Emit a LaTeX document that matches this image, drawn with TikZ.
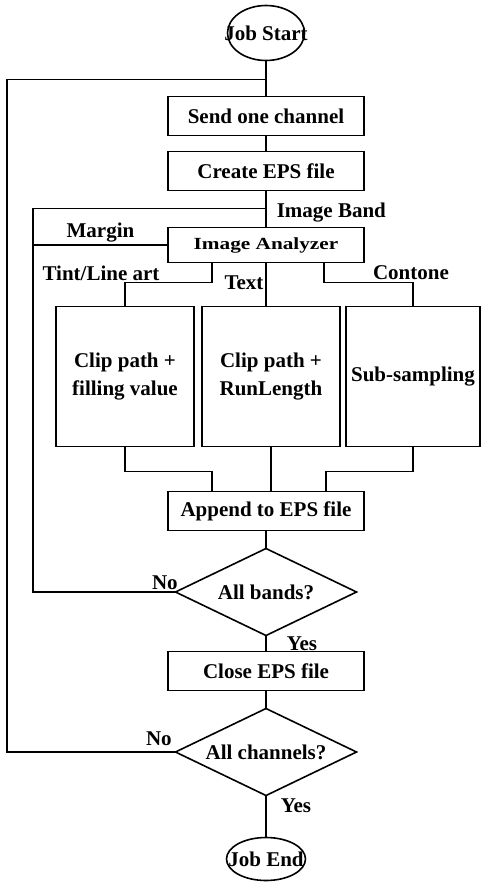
\documentclass[tikz,border=0pt]{standalone}
\usepackage{graphicx}
\usepackage{fontspec}
\setmainfont{Liberation Serif}
\usetikzlibrary{positioning,shapes.geometric}

\begin{document}
\begin{tikzpicture}[
    x=1pt, y=-1pt,
    line width=1.6pt,
    font=\fontsize{21}{28}\selectfont\bfseries,
    box/.style={rectangle, draw, minimum width=196pt, minimum height=39pt, inner sep=0pt, outer sep=0pt, align=center},
    tall/.style={rectangle, draw, minimum width=138pt, minimum height=140pt, inner sep=0pt, outer sep=0pt, align=center},
    decision/.style={diamond, draw, aspect=2, minimum width=181pt, minimum height=87pt, inner sep=2pt, outer sep=0pt},
    terminal/.style={ellipse, draw, inner sep=0pt, outer sep=0pt},
    note/.style={inner sep=0pt}
]
\path[use as bounding box, fill=white] (0,0) rectangle (481,883);

% Main flow
\node[terminal, minimum width=77pt, minimum height=55pt] (start) at (266,33) {\makebox[40pt]{Job Start}};
\node[box, below=36pt of start] (send) {Send one channel};
\node[box, below=16pt of send] (create) {Create EPS file};
\node[box, minimum height=35pt, below=37pt of create] (analyzer) {\fontsize{17}{20}\selectfont\scalebox{1.25}[1]{Image Analyzer}};

% Band types
\node[tall, below=44pt of analyzer, xshift=5pt] (run) {Clip path +\\RunLength};
\node[tall, left=8pt of run] (fill) {Clip path +\\filling value};
\node[tall, minimum width=134pt, right=6pt of run] (sub) {Sub-sampling};

% Closing part
\node[box, below=45pt of run, xshift=-5pt] (append) {Append to EPS file};
\node[decision, below=18pt of append] (bands) {All bands?};
\node[box, below=16pt of bands] (close) {Close EPS file};
\node[decision, below=18pt of close] (chans) {All channels?};
\node[terminal, minimum width=79pt, minimum height=43pt, below=42pt of chans] (end) {\makebox[40pt]{Job End}};

% Loop corners
\coordinate[below=19pt of start] (jtop);
\coordinate[below=18pt of create] (jband);
\coordinate[left=259pt of jtop] (outerL);
\coordinate[left=233pt of jband] (innerL);

\draw (start) -- (send);
\draw (send) -- (create);
\draw (create) -- (analyzer);
\draw (analyzer.south) -- (analyzer.south |- run.north);
\draw ([xshift=-54pt]analyzer.south) |- ([yshift=24pt]fill.north) -- (fill.north);
\draw ([xshift=58pt]analyzer.south) |- ([yshift=24pt]sub.north) -- (sub.north);
\draw (fill.south) |- ([xshift=-54pt, yshift=20pt]append.north) -- ([xshift=-54pt]append.north);
\draw (run.south) -- (run.south |- append.north);
\draw (sub.south) |- ([xshift=60pt, yshift=20pt]append.north) -- ([xshift=60pt]append.north);
\draw (append) -- (bands);
\draw (bands) -- node[note, right=20pt] (yesbands) {Yes} (close);
\draw (close) -- (chans);
\draw (chans) -- node[note, pos=0.25, right=14pt] (yeschans) {Yes} (end);

% Loops back
\draw (analyzer.west) -- node[note, above=2pt] (margintxt) {Margin} (analyzer.west -| innerL);
\draw (bands.west) node[note, above left=2pt and -3pt] (nobands) {No} -| (innerL) -- (jband);
\draw (chans.west) node[note, above left=6pt and 3pt] (nochans) {No} -| (outerL) -- (jtop);

% Labels
\node[note, right=10pt of jband, yshift=-4pt] (bandtxt) {Image Band};
\node[note] (tinttxt) at (101,273) {Tint/Line art};
\node[note] (texttxt) at (244,283) {Text};
\node[note] (contonetxt) at (411,273) {Contone};

\end{tikzpicture}
\end{document}
